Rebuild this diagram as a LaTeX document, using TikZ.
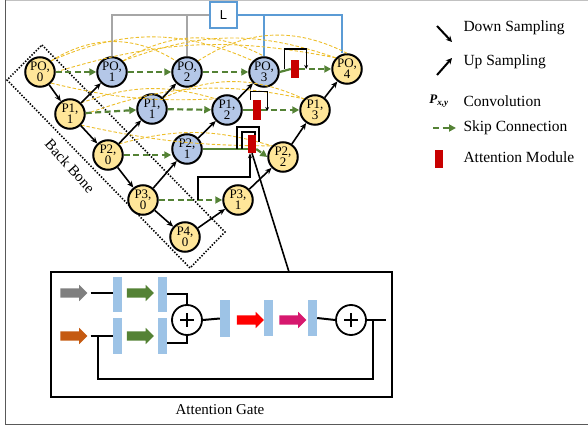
\documentclass[tikz,border=0pt]{standalone}
\usepackage{fontspec}
\setmainfont{Liberation Serif}
\newfontfamily\lsans{Liberation Sans}
\usetikzlibrary{arrows.meta,calc,shapes.arrows}
\definecolor{nyel}{HTML}{FFE699}
\definecolor{nblu}{HTML}{B4C7E7}
\definecolor{sgreen}{HTML}{548235}
\definecolor{ared}{HTML}{C80000}
\definecolor{lblue}{HTML}{5B9BD5}
\definecolor{lgray}{HTML}{A6A6A6}
\definecolor{cgold}{HTML}{EDBE2A}
\definecolor{barblue}{HTML}{9DC3E6}
\definecolor{aorange}{HTML}{C55A11}
\definecolor{agreen}{HTML}{548235}
\definecolor{amag}{HTML}{D6186E}
\definecolor{agray}{HTML}{7F7F7F}
\definecolor{ared2}{HTML}{FF0000}
\tikzset{
  pnode/.style={circle, draw=black, line width=2pt, minimum size=29.5pt, inner sep=0pt, align=center, font=\fontsize{13}{11}\selectfont},
  ynode/.style={pnode, fill=nyel},
  bnode/.style={pnode, fill=nblu},
  amod/.style={rectangle, fill=ared, minimum width=8pt, minimum height=18pt, inner sep=0pt},
  skip/.style={draw=sgreen, line width=2.2pt, dash pattern=on 6pt off 3.5pt, -{Triangle[length=7pt,width=7pt]}},
  skipln/.style={draw=sgreen, line width=2.2pt},
  samp/.style={draw=black, line width=1.6pt, -{Stealth[length=6.5pt,width=5.5pt]}},
  gateln/.style={draw=black, line width=1.3pt},
  ycurve/.style={draw=cgold, line width=0.9pt, dash pattern=on 3.5pt off 2pt},
  grayl/.style={draw=lgray, line width=1.6pt},
  bluel/.style={draw=lblue, line width=1.6pt},
  legtext/.style={anchor=west, font=\fontsize{15.5}{18}\selectfont},
  bar/.style={rectangle, fill=barblue, minimum width=9pt, minimum height=35pt, inner sep=0pt},
  barrow/.style={single arrow, fill=#1, minimum height=27pt, inner sep=4.5pt, single arrow head extend=3.5pt},
  oplus/.style={circle, draw=black, line width=1.8pt, minimum size=30pt, inner sep=0pt},
  gline/.style={draw=black, line width=2pt},
}
\begin{document}
\begin{tikzpicture}[x=1pt,y=-1pt]
\useasboundingbox (0,0) rectangle (588,427);
% frame
\draw[lgray!70, line width=0.8pt] (5,0.6) -- (588,0.6);
\draw[black!65, line width=1pt] (5,0) -- (5,424) -- (588,424);

% backbone
\draw[black, line width=1.6pt, dash pattern=on 1.4pt off 1.6pt] (42,45) -- (225,232) -- (190,268) -- (7,80) -- cycle;
\node[rotate=-48, font=\fontsize{15}{15}\selectfont] (bb) at (70,166) {Back Bone};

% L box
\node[draw=lblue, line width=1.6pt, minimum width=27pt, minimum height=26pt, inner sep=0pt, font=\lsans\fontsize{13}{13}\selectfont, fill=white] (L) at (223.5,15) {L};

% nodes
\node[ynode] (a00) at (40,72) {PO,\\0};
\node[bnode] (a01) at (112,72) {PO,\\1};
\node[bnode] (a02) at (187,72) {PO,\\2};
\node[bnode] (a03) at (264,72) {PO,\\3};
\node[ynode] (a04) at (347,69) {PO,\\4};
\node[ynode] (a11) at (70,114) {P1,\\1};
\node[bnode] (b11) at (152,109) {P1,\\1};
\node[bnode] (b12) at (227,110) {P1,\\2};
\node[ynode] (a13) at (315,110) {P1,\\3};
\node[ynode] (a20) at (108,155) {P2,\\0};
\node[bnode] (b21) at (187,149) {P2,\\1};
\node[ynode] (a22) at (283,157) {P2,\\2};
\node[ynode] (a30) at (143,200) {P3,\\0};
\node[ynode] (a31) at (238,200) {P3,\\1};
\node[ynode] (a40) at (185,237) {P4,\\0};

% gray / blue lines from L
\draw[grayl] (L.west) -| (a01.north);
\draw[grayl] (a02.north) -- (a02.north |- L.west);
\draw[bluel] (L.east) -| ([xshift=-5pt]a04.north);
\draw[bluel] (a03.north) -- (a03.north |- L.east);

% yellow dashed curves
\draw[ycurve] (a00.north east) to[bend left=32] (a02.north west);
\draw[ycurve] (a00.north east) to[bend left=24] (a03.north west);
\draw[ycurve] (a00.east) to[bend left=14] (a04.north west);
\draw[ycurve] (a01.north east) to[bend left=30] (a03.north);
\draw[ycurve] (a01.north east) to[bend left=20] (a04.north west);
\draw[ycurve] (a02.north east) to[bend left=30] (a04.north);
\draw[ycurve] (a00.south east) to[bend right=8] (b12.north west);
\draw[ycurve] (a11.north east) to[bend left=18] (b12.north west);
\draw[ycurve] (a11.east) to[bend left=16] (a13.north west);
\draw[ycurve] (b11.north east) to[bend left=24] (a13.north west);
\draw[ycurve] (a20.north east) to[bend left=16] (a22.north west);
\draw[ycurve] (a11.south east) to[bend right=6] (a22.north west);

% attention modules
\node[amod] (r0) at (295,69) {};
\node[amod, minimum height=20pt] (r1) at (257,110) {};
\node[amod] (r2) at (252,144) {};

% skip connections
\draw[skip] (a00) -- (a01);
\draw[skip] (a01) -- (a02);
\draw[skip] (a02) -- (a03);
\draw[skipln] (a03.east) -- (r0.west);
\draw[skip] (r0.east) -- (a04.west);
\draw[skip] (a11) -- (b11);
\draw[skip] (b11) -- (b12);
\draw[skipln] (b12.east) -- (r1.west);
\draw[skip] (r1.east) -- (a13.west);
\draw[skip] (a20.east) -- (b21.west |- a20.east);
\draw[skipln] (b21.east) -- (r2.west |- b21.east);
\draw[skip] (r2.east |- b21.east) -- (a22.west);
\draw[skip] (a30) -- (a31);

% redraw attention modules on top
\node[amod] at (r0) {};
\node[amod, minimum height=20pt] at (r1) {};
\node[amod] at (r2) {};

% gating brackets
\draw[gateln, -{Stealth[length=4pt,width=4pt]}] ([xshift=-6pt]r0.west) -- ++(0,-20) -| ([xshift=7pt]r0.east);
\draw[gateln, -{Stealth[length=4pt,width=4pt]}] ([xshift=-2pt]r1.north west) -- ++(0,-8) -| ([xshift=6pt,yshift=-1pt]r1.east);
\draw[gateln] (237,149) -- (237,127) -- (259,127) -- (259,142);
\draw[gateln] (242,149) -- (242,132) -- (255,132) -- (255,135);
\coordinate (p3b) at (198,200);
\draw[gateln, -{Stealth[length=5pt,width=4pt]}] (p3b) |- (250,177) -- ([xshift=-2pt]r2.south);

% sampling arrows
\draw[samp] (a00) -- (a11);
\draw[samp] (a11) -- (a20);
\draw[samp] (a20) -- (a30);
\draw[samp] (a30) -- (a40);
\draw[samp] (a11) -- (a01);
\draw[samp] (a20) -- (b11);
\draw[samp] (b11) -- (a02);
\draw[samp] (a30) -- (b21);
\draw[samp] (b21) -- (b12);
\draw[samp] (b12) -- (a03);
\draw[samp] (a40) -- (a31);
\draw[samp] (a31) -- (a22);
\draw[samp] (a22) -- (a13);
\draw[samp] (a13) -- (a04);

% legend
\draw[black, line width=2pt, -{Stealth[length=6pt,width=6pt]}] (437,26) -- (452,42);
\node[legtext] (l1) at (460,28) {Down Sampling};
\draw[black, line width=2pt, -{Stealth[length=6pt,width=6pt]}] (437,75) -- (452,58);
\node[legtext] (l2) at (460,62) {Up Sampling};
\node[font=\fontsize{13}{13}\selectfont] (l3s) at (439,101) {\textbf{\textit{P}}\textsubscript{\textbf{\textit{x,y}}}};
\node[legtext] (l3) at (460,101) {Convolution};
\draw[skip] (433,128) -- (456,128);
\node[legtext] (l4) at (460,128) {Skip Connection};
\node[amod] (l5s) at (439,159) {};
\node[legtext] (l5) at (460,157) {Attention Module};

% attention gate box
\node[draw=black, line width=2.2pt, minimum width=341pt, minimum height=125pt, inner sep=0pt] (gate) at (221.5,334.5) {};
\node[font=\fontsize{15}{18}\selectfont] (gtitle) at (220,410) {Attention Gate};
\coordinate (gtop) at (289,272);
\draw[black, line width=1.6pt] (r2.south) -- (gtop);

\node[barrow=agray] (g1) at (71.5,293) {};
\node[barrow=aorange] (o1) at (71.5,336) {};
\node[bar] (bar1) at (117.5,294.5) {};
\node[bar] (bar2) at (162.5,294.5) {};
\node[bar, minimum height=36pt] (bar3) at (117.5,336) {};
\node[bar, minimum height=36pt] (bar4) at (162.5,336) {};
\node[barrow=agreen] (gr1) at (138,293) {};
\node[barrow=agreen] (gr2) at (138,336) {};
\node[oplus] (c1) at (187,320) {};
\node[bar, minimum width=10pt, minimum height=37pt] (bar5) at (225,318.5) {};
\node[barrow=ared2] (rd) at (248,320) {};
\node[bar, minimum height=36pt] (bar6) at (268.5,318) {};
\node[barrow=amag] (mg) at (290.5,320) {};
\node[bar, minimum height=36pt] (bar7) at (312.5,318) {};
\node[oplus] (c2) at (351,320) {};
\foreach \c in {c1,c2}{
  \draw[line width=1.6pt] ($(\c)+(-7,0)$) -- ($(\c)+(7,0)$);
  \draw[line width=1.6pt] ($(\c)+(0,-7)$) -- ($(\c)+(0,7)$);
}
\draw[gline] ([xshift=3pt]g1.east) -- (bar1.west |- g1.east);
\draw[gline] ([xshift=3pt]o1.east) -- (bar3.west |- o1.east);
\coordinate (sk) at (98,336);
\coordinate (outc) at (386,320);
\draw[gline] (sk) -- (98,379) -| (373,320);
\draw[gline] (bar2.east |- 0,294) -| (c1.north);
\draw[gline] (bar4.east |- 0,343) -| (c1.south);
\draw[gline] (c1.east) -- (bar5.west);
\draw[gline] (bar7.east) -- (c2.west);
\draw[gline] (c2.east) -- (outc);
\end{tikzpicture}
\end{document}
